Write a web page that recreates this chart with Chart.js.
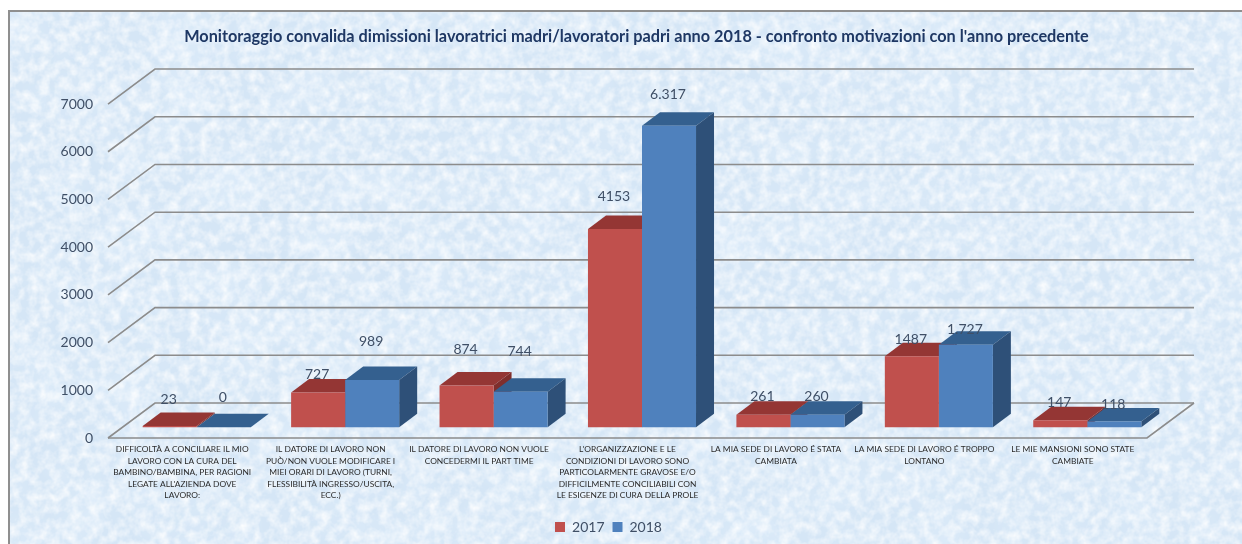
<!DOCTYPE html>
<html>
<head>
<meta charset="utf-8">
<title>Monitoraggio convalida dimissioni</title>
<script src="https://cdn.jsdelivr.net/npm/chart.js@4/dist/chart.umd.min.js"></script>
<style>
  html, body { margin: 0; padding: 0; background: #fff; width: 1242px; height: 544px; overflow: hidden; }
  #panel { position: absolute; left: 8px; top: 10px; width: 1240px; height: 540px; background: #d5e6f6; border: 2px solid #8f8f8f; box-sizing: border-box; overflow: hidden; }
  #panel svg { position: absolute; left: 0; top: 0; }
  #chartBox { position: absolute; left: 0; top: 0; width: 1242px; height: 544px; }
</style>
</head>
<body>
<div id="panel">
  <!-- mottled paper texture behind the chart -->
  <svg width="1240" height="540">
    <filter id="soft"><feTurbulence type="fractalNoise" baseFrequency="0.02" numOctaves="3" seed="4"/>
      <feColorMatrix values="0 0 0 0 0.74  0 0 0 0 0.85  0 0 0 0 0.96  1.6 0 0 0 -0.65"/></filter>
    <filter id="veins"><feTurbulence type="fractalNoise" baseFrequency="0.1" numOctaves="3" seed="9"/>
      <feColorMatrix values="0 0 0 0 1  0 0 0 0 1  0 0 0 0 1  1.5 0 0 0 -0.5"/></filter>
    <rect width="1240" height="540" filter="url(#soft)"/>
    <rect width="1240" height="540" filter="url(#veins)"/>
  </svg>
</div>
<div id="chartBox"><canvas id="chartCanvas" width="1242" height="544"></canvas></div>
<script>
var chartTitle = "Monitoraggio convalida dimissioni lavoratrici madri/lavoratori padri anno 2018 - confronto motivazioni con l'anno precedente";

var categories = [
    ["DIFFICOLTÀ A CONCILIARE IL MIO", "LAVORO CON LA CURA DEL", "BAMBINO/BAMBINA, PER RAGIONI", "LEGATE ALL'AZIENDA DOVE", "LAVORO:"],
    ["IL DATORE DI LAVORO NON", "PUÒ/NON VUOLE MODIFICARE I", "MIEI ORARI DI LAVORO (TURNI,", "FLESSIBILITÀ INGRESSO/USCITA,", "ECC.)"],
    ["IL DATORE DI LAVORO NON VUOLE", "CONCEDERMI IL PART TIME"],
    ["L'ORGANIZZAZIONE E LE", "CONDIZIONI DI LAVORO SONO", "PARTICOLARMENTE GRAVOSE E/O", "DIFFICILMENTE CONCILIABILI CON", "LE ESIGENZE DI CURA DELLA PROLE"],
    ["LA MIA SEDE DI LAVORO É STATA", "CAMBIATA"],
    ["LA MIA SEDE DI LAVORO É TROPPO", "LONTANO"],
    ["LE MIE MANSIONI SONO STATE", "CAMBIATE"]
];

var values2017 = [23, 727, 874, 4153, 261, 1487, 147];
var values2018 = [0, 989, 744, 6317, 260, 1727, 118];

// the labels are written as in the original, only two of them have the dot
var labels2017 = ["23", "727", "874", "4153", "261", "1487", "147"];
var labels2018 = ["0", "989", "744", "6.317", "260", "1.727", "118"];

var yTicks = [0, 1000, 2000, 3000, 4000, 5000, 6000, 7000];

// 3D look
var wallX = 47, wallY = -35;		//depth of the floor
var barDepthX = 18, barDepthY = -13.5;	//depth of a bar
var barShiftX = 14.5, barShiftY = -10.8;	//bars stand in the middle of the floor

var faceColors = [
    { front: "#C0504D", top: "#943634", side: "#7F2E2C" },
    { front: "#4F81BD", top: "#34608F", side: "#2E5078" }
];

// data labels were moved by hand in the original, distance above the top of the bar
var labelLift = [
    [27, 18, 36, 33, 18, 17, 18],
    [30, 39, 40, 31, 18, 15, 17]
];

var textColor = "#3F4F66";

function poly(ctx, pts, color) {
    ctx.fillStyle = color;
    ctx.beginPath();
    ctx.moveTo(pts[0][0], pts[0][1]);
    for (var i = 1; i < pts.length; i++) ctx.lineTo(pts[i][0], pts[i][1]);
    ctx.closePath();
    ctx.fill();
}

var threeD = {
    id: "threeD",
    afterLayout: function (chart) {
        // title and legend are not centred on the plot in the original
        chart.titleBlock.left += 63;
        chart.titleBlock.right += 63;
        chart.legend.left += 35;
        chart.legend.right += 35;
    },
    beforeDatasetsDraw: function (chart) {
        var ctx = chart.ctx;
        var area = chart.chartArea;
        var y = chart.scales.y;

        // left wall and back wall grid
        ctx.save();
        ctx.strokeStyle = "#8c8c8c";
        ctx.lineWidth = 1.6;
        yTicks.forEach(function (t) {
            var py = y.getPixelForValue(t);
            ctx.beginPath();
            ctx.moveTo(area.left, py);
            ctx.lineTo(area.left + wallX, py + wallY);
            ctx.lineTo(area.right + wallX, py + wallY);
            ctx.stroke();
        });
        // floor
        var py0 = y.getPixelForValue(0);
        ctx.beginPath();
        ctx.moveTo(area.left, py0);
        ctx.lineTo(area.right, py0);
        ctx.lineTo(area.right + wallX, py0 + wallY);
        ctx.stroke();

        // top and side of the bars, the fronts come from the library after this
        ctx.translate(barShiftX, barShiftY);
        for (var c = 0; c < categories.length; c++) {
            for (var d = 0; d < 2; d++) {
                var el = chart.getDatasetMeta(d).data[c];
                var x0 = el.x - el.width / 2, x1 = el.x + el.width / 2;
                var dx = barDepthX, dy = barDepthY;
                poly(ctx, [[x0, el.y], [x1, el.y], [x1 + dx, el.y + dy], [x0 + dx, el.y + dy]], faceColors[d].top);
                poly(ctx, [[x1, el.y], [x1, el.base], [x1 + dx, el.base + dy], [x1 + dx, el.y + dy]], faceColors[d].side);
            }
        }
        ctx.restore();
    },
    beforeDatasetDraw: function (chart) {
        chart.ctx.save();
        chart.ctx.translate(barShiftX, barShiftY);
    },
    afterDatasetDraw: function (chart) {
        chart.ctx.restore();
    },
    afterDatasetsDraw: function (chart) {
        var ctx = chart.ctx;
        var texts = [labels2017, labels2018];
        ctx.save();
        ctx.font = "14px Lato";
        ctx.fillStyle = textColor;
        ctx.textAlign = "center";
        ctx.textBaseline = "middle";
        for (var d = 0; d < 2; d++) {
            chart.getDatasetMeta(d).data.forEach(function (el, c) {
                ctx.fillText(texts[d][c], el.x + barShiftX - 1, el.y + barShiftY - labelLift[d][c]);
            });
        }
        ctx.restore();
    }
};

var canvas = document.getElementById("chartCanvas");

new Chart(canvas, {
    type: "bar",
    data: {
        labels: categories,
        datasets: [
            { label: "2017", data: values2017, backgroundColor: faceColors[0].front, borderWidth: 0, clip: false },
            { label: "2018", data: values2018, backgroundColor: faceColors[1].front, borderWidth: 0, clip: false }
        ]
    },
    options: {
        responsive: false,
        animation: false,
        layout: { padding: { left: 0, right: 95, top: 0, bottom: 0 } },
        datasets: { bar: { barPercentage: 1, categoryPercentage: 0.728 } },
        plugins: {
            title: {
                display: true,
                text: chartTitle,
                color: "#1F3864",
                font: { family: "Lato", size: 16.3, weight: "bold", lineHeight: 1.2 },
                padding: { top: 26.5, bottom: 58 }
            },
            legend: {
                position: "bottom",
                labels: { color: textColor, font: { family: "Lato", size: 14 }, boxWidth: 10, boxHeight: 10, padding: 8 }
            },
            tooltip: { enabled: false }
        },
        scales: {
            x: {
                grid: { display: false, drawTicks: false },
                border: { display: false },
                ticks: {
                    color: "#2b2b2b",
                    font: { family: "Lato", size: 8.4, lineHeight: 1.37 },
                    autoSkip: false,
                    maxRotation: 0,
                    minRotation: 0,
                    padding: 6
                },
                afterFit: function (scale) { scale.height = 74; }
            },
            y: {
                min: 0,
                max: 7000,
                grid: { display: false, drawTicks: false },
                border: { display: false },
                ticks: {
                    stepSize: 1000,
                    color: textColor,
                    font: { family: "Lato", size: 14 },
                    padding: 15,
                    callback: function (v) { return String(v); }
                },
                afterFit: function (scale) { scale.width = 108; }
            }
        }
    },
    plugins: [threeD]
});
</script>
</body>
</html>
